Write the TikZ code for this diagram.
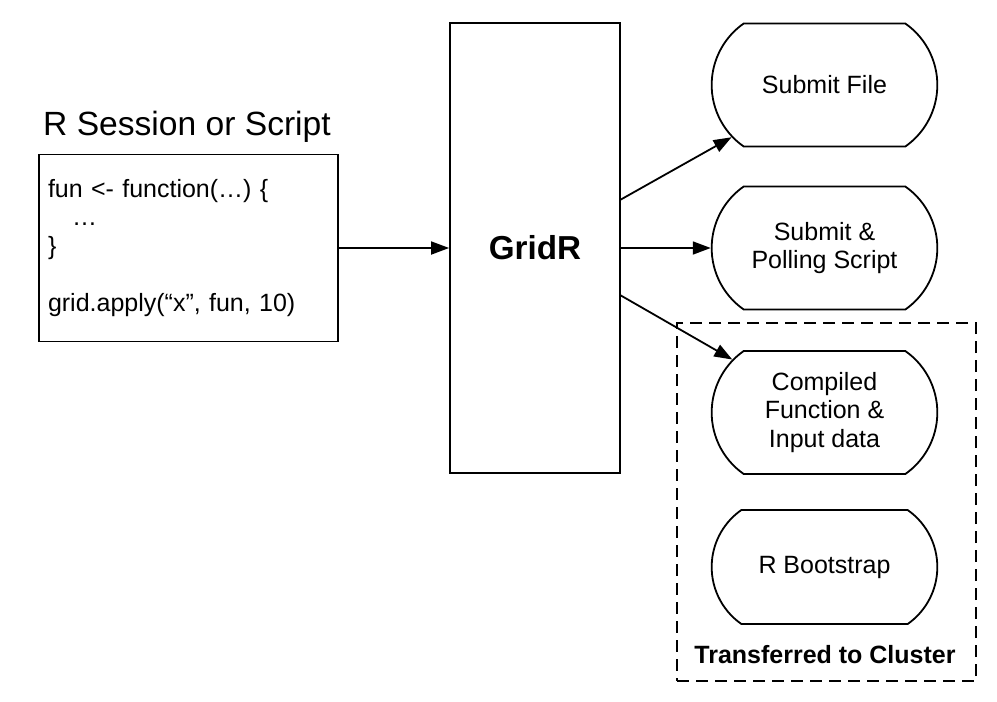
\documentclass[tikz,border=0pt]{standalone}
\usepackage{fontspec}
\setmainfont{Liberation Sans}
\usetikzlibrary{shapes.misc,arrows.meta}

\tikzset{
  txt/.style={font=\fontsize{12.5}{14.25}\selectfont},
  doc/.style={rounded rectangle, rounded rectangle arc length=110, draw,
    line width=0.9pt, minimum width=119.5pt, minimum height=61.5pt,
    align=center, txt},
  link/.style={draw, line width=0.9pt, -{Triangle[length=9pt,width=6.5pt]}}
}

\begin{document}
\begin{tikzpicture}[x=0.5pt,y=-0.5pt]
  \useasboundingbox (0,0) rectangle (997,702);

  \begin{scope}[line width=0.9pt]
    \node[anchor=base, font=\fontsize{16.8}{20}\selectfont] (title) at (187,135) {R Session or Script};
    \node[draw, txt, text width=140.5pt, inner xsep=4.5pt, minimum height=93.5pt, align=left] (session) at (188.5,248)
      {fun <- function(…) \{\\\hspace{12pt}…\\\}\\[14.25pt]grid.apply(“x”, fun, 10)};
    \node[draw, minimum width=85pt, minimum height=225pt, font=\bfseries\fontsize{16.6}{20}\selectfont] (gridr) at (535,248) {GridR};
    \node[draw, dash pattern=on 6pt off 3.5pt, minimum width=149.5pt, minimum height=179pt] (cluster) at (826.5,502) {};
    \node[anchor=base, font=\bfseries\fontsize{12.5}{14}\selectfont] (clusterlabel) at (825,663) {Transferred to Cluster};
  \end{scope}

  \begin{scope}[every node/.style={doc}]
    \node (submit)    at (824.5,85)    {Submit File};
    \node (polling)   at (824.5,248)   {Submit \&\\Polling Script};
    \node (compiled)  at (824.5,412.5) {Compiled\\Function \&\\Input data};
    \node[minimum height=57pt] (bootstrap) at (824.5,567) {R Bootstrap};
  \end{scope}

  \coordinate (g1) at (620,200);
  \coordinate (g3) at (620,295);

  \begin{scope}[every edge/.style={link}]
    \path (session) edge (gridr);
    \path (g1)      edge (submit);
    \path (gridr)   edge (polling);
    \path (g3)      edge (compiled);
  \end{scope}

\end{tikzpicture}
\end{document}
